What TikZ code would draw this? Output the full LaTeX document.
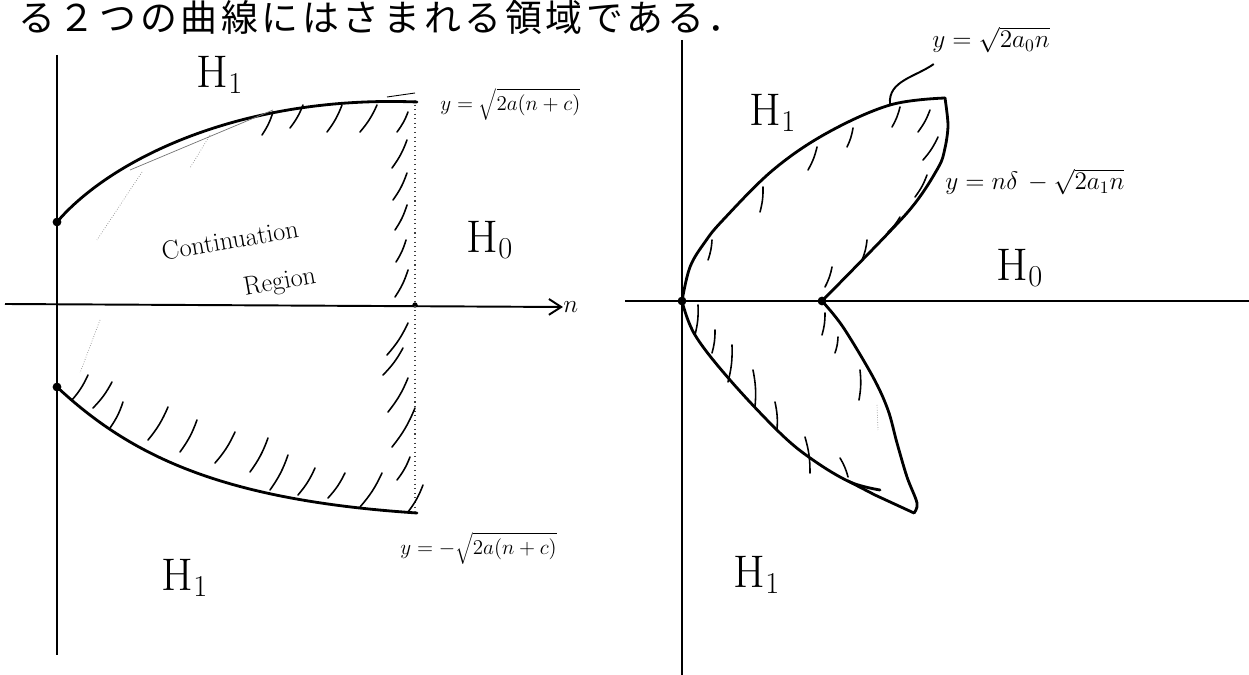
\documentclass[tikz,border=0pt]{standalone}
\usepackage{fontspec}
\newfontfamily\jpfont{Noto Sans CJK JP}
\usetikzlibrary{arrows.meta}
\tikzset{
  axisline/.style={line width=1.1pt},
  curveline/.style={line width=1.6pt, line cap=round, line join=round},
  hatchline/.style={line width=0.9pt, line cap=round},
  faintline/.style={line width=0.4pt, black!45, densely dotted},
  guideline/.style={line width=0.6pt, black!75, dotted},
  lbl/.style={inner sep=0pt},
  bigH/.style={inner sep=0pt, font=\fontsize{26}{28}\selectfont},
  formula/.style={inner sep=0pt, anchor=west, font=\fontsize{13}{15}\selectfont},
  dotmark/.style={circle, fill, inner sep=0pt, minimum size=5pt},
}
\begin{document}
\begin{tikzpicture}[x=0.02cm, y=-0.02cm]
\useasboundingbox (0,0) rectangle (1249,675);
\clip (0,0) rectangle (1249,675);

% top Japanese line
\node[lbl, anchor=base west, font=\jpfont\fontsize{21}{23}\selectfont\addfontfeature{LetterSpace=10}] (jp) at (18,32) {る２つの曲線にはさまれる領域である．};

% ================= LEFT PLOT =================
\coordinate (LvT) at (57,55);
\coordinate (LvB) at (57,655);
\coordinate (LhL) at (5,304);
\coordinate (LhR) at (563,307);
\draw[axisline] (LvT) -- (LvB);
\draw[axisline, -{Straight Barb[length=7pt,width=9pt]}] (LhL) -- (LhR);
\node[lbl, anchor=west, font=\fontsize{15}{17}\selectfont] (nlab) at (LhR) {$n$};

\node[dotmark] (Ptop) at (57,222) {};
\node[dotmark] (Pbot) at (57,387) {};
\node[dotmark, minimum size=3pt] (Pc) at (415,305) {};

% upper boundary y = sqrt(2a(n+c))
\draw[curveline] (Ptop.center) .. controls (110,160) and (240,95) .. (417,102);
\draw[line width=0.5pt] (387,97) -- (415,93);
\draw[line width=0.4pt, black!55] (130,170) -- (273,110);
% lower boundary
\draw[curveline] (Pbot.center) .. controls (130,455) and (220,500) .. (417,513);
% right dotted boundary
\draw[guideline] (415,100) -- (Pc.center) -- (415,515);

% faint pencil marks
\draw[faintline] (142,172) -- (97,240);
\draw[faintline] (210,135) -- (190,168);
\draw[faintline] (100,320) -- (80,373);

% hatching, left plot
\foreach \a/\b/\c/\d in {273/112/262/135, 303/105/290/128, 342/105/327/132, 377/105/360/132, 408/112/397/132,
  407/140/392/168, 407/173/393/200, 407/205/395/230, 406/240/396/262, 408/270/395/297,
  408/323/387/355, 403/348/383/375, 408/378/388/412, 415/408/392/447, 410/457/397/480,
  88/375/72/400, 112/382/93/408, 123/402/110/428, 168/407/148/440, 197/420/180/452, 235/432/215/463,
  268/438/250/472, 288/455/270/490, 315/468/298/495, 345/473/328/498, 382/473/360/507, 423/485/408/512}
  \draw[hatchline] (\a,\b) to[bend left=8] (\c,\d);

% labels, left plot
\node[bigH] (H1a) at (220,75) {H$_1$};
\node[bigH] (H1b) at (185,578) {H$_1$};
\node[bigH] (H0a) at (490,240) {H$_0$};
\node[lbl, rotate=10, font=\fontsize{15}{17}\selectfont] (cont) at (230,240) {Continuation};
\node[lbl, rotate=10, font=\fontsize{15}{17}\selectfont] (regn) at (280,283) {Region};
\node[formula] (fa) at (440,104) {$y=\sqrt{2a(n+c)}$};
\node[formula] (fb) at (400,548) {$y=-\sqrt{2a(n+c)}$};

% ================= RIGHT PLOT =================
\coordinate (RvT) at (682,40);
\coordinate (RvB) at (682,675);
\coordinate (RhL) at (625,301);
\coordinate (RhR) at (1249,301);
\draw[axisline] (RvT) -- (RvB);
\draw[axisline] (RhL) -- (RhR);
\node[dotmark] (O) at (682,301) {};
\node[dotmark] (Q) at (822,301) {};

% upper lobe
\draw[curveline] plot[smooth, tension=0.6] coordinates {(682,301) (690,267) (705,242) (723,220) (773,170) (827,133) (890,105) (945,98)};
\draw[curveline] plot[smooth, tension=0.5] coordinates {(945,98) (948,125) (945,148) (938,168) (907,213) (822,301)};
% lower lobe
\draw[curveline] plot[smooth, tension=0.6] coordinates {(682,301) (695,335) (730,380) (780,433) (813,460) (850,482) (880,490)};
\draw[curveline] plot[smooth, tension=0.55] coordinates {(822,301) (843,327) (873,377) (888,410) (897,443) (907,477) (917,503) (914,513)};
\draw[curveline] (914,513) -- (875,495) -- (848,481);

% leader to y = sqrt(2 a0 n)
\coordinate (lead0) at (890,104);
\node[formula, font=\fontsize{14}{16}\selectfont] (fc) at (932,40) {$y=\sqrt{2a_0 n}$};
\draw[line width=1.1pt] (lead0) to[out=95, in=215] ([xshift=1pt, yshift=-6pt]fc.south west);

% hatching, right plot
\foreach \a/\b/\c/\d in {712/240/708/260, 763/187/760/212, 817/147/808/170, 853/128/847/147, 900/107/892/127,
  930/110/918/132, 938/137/923/160, 927/175/915/197, 900/217/888/232, 867/240/862/260, 832/267/825/287,
  698/305/695/335, 715/330/712/353, 732/345/728/382, 753/370/755/407, 775/402/777/430, 805/437/810/473,
  840/458/848/477, 825/313/822/335, 838/337/835/353, 860/370/859/400}
  \draw[hatchline] (\a,\b) to[bend left=8] (\c,\d);
\draw[faintline] (877,405) -- (878,430);

% labels, right plot
\node[formula, font=\fontsize{14}{16}\selectfont] (fd) at (945,182) {$y=n\delta\,-\sqrt{2a_1 n}$};
\node[bigH] (H1c) at (773,113) {H$_1$};
\node[bigH] (H0b) at (1020,268) {H$_0$};
\node[bigH] (H1d) at (757,575) {H$_1$};
\end{tikzpicture}
\end{document}
